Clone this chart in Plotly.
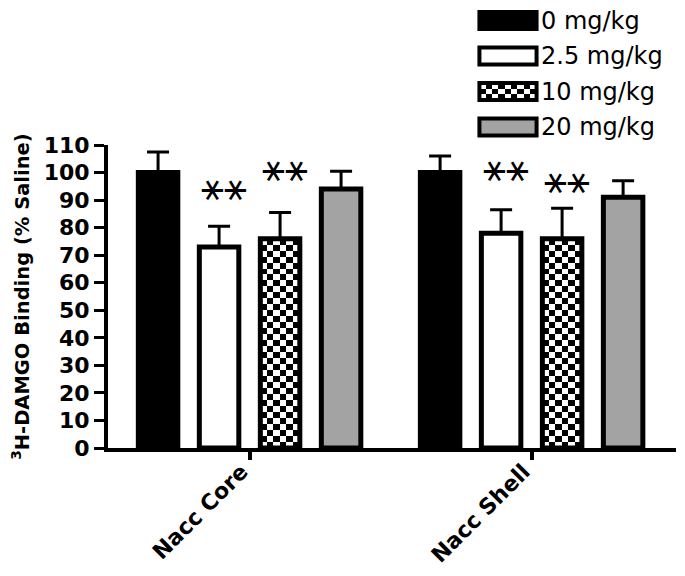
import numpy as np
import plotly.graph_objects as go

# ---- data ----
groups = ["Nacc Core", "Nacc Shell"]
doses = ["0 mg/kg", "2.5 mg/kg", "10 mg/kg", "20 mg/kg"]
core_means = [100, 73, 76, 94]
core_sem = [7.5, 7.5, 9.5, 6.5]
shell_means = [100, 78, 76, 91]
shell_sem = [6, 8.5, 11, 6]
# significance marker heights, None = no marker
core_sig = [None, 94.6, 101.8, None]
shell_sig = [None, 101.5, 97.4, None]
y_ticks = list(range(0, 111, 10))

# ---- style ----
fills = ["black", "white", "checker", "#a3a3a3"]
pitch = 0.2163
bw = 0.14
LW = 5
FONT = "DejaVu Sans"

means = [[core_means[s], shell_means[s]] for s in range(4)]
sems = [[core_sem[s], shell_sem[s]] for s in range(4)]
sigs = [[core_sig[s], shell_sig[s]] for s in range(4)]


def checker(x0, x1, y0, y1, ncols, nrows, xa="x", ya="y"):
    xe = np.linspace(x0, x1, ncols + 1)
    ye = np.linspace(y0, y1, nrows + 1)
    z = [[(i + j) % 2 for j in range(ncols)] for i in range(nrows)]
    return go.Heatmap(x=xe, y=ye, z=z, zmin=0, zmax=1,
                      colorscale=[[0, "white"], [1, "black"]],
                      showscale=False, hoverinfo="skip", xaxis=xa, yaxis=ya)


fig = go.Figure()
annotations = []
for s in range(4):
    xs = [g + (s - 1.5) * pitch for g in range(len(groups))]
    if fills[s] == "checker":
        for g in range(len(groups)):
            v = means[s][g]
            fig.add_trace(checker(xs[g] - bw / 2, xs[g] + bw / 2, 0, v, 6, int(round(v / 2.2))))
        color = "rgba(0,0,0,0)"
    else:
        color = fills[s]
    fig.add_trace(go.Bar(
        x=xs, y=means[s], width=bw,
        marker=dict(color=color, line=dict(color="black", width=LW)),
        error_y=dict(type="data", symmetric=False, array=sems[s],
                     arrayminus=[0] * len(groups), color="black",
                     thickness=3, width=11),
        hoverinfo="skip", showlegend=False,
    ))
    for g in range(len(groups)):
        if sigs[s][g] is not None:
            annotations.append(dict(x=xs[g], y=sigs[s][g], xref="x", yref="y",
                                    text="⚹⚹", showarrow=False, xshift=5,
                                    font=dict(family=FONT, size=38, color="black")))

# legend drawn as a small bar chart on its own axes
for s in range(4):
    if fills[s] == "checker":
        fig.add_trace(checker(0, 1, s - 0.24, s + 0.24, 9, 3, "x2", "y2"))
        color = "rgba(0,0,0,0)"
    else:
        color = fills[s]
    fig.add_trace(go.Bar(
        x=[1], y=[s], base=0, orientation="h", width=0.48,
        marker=dict(color=color, line=dict(color="black", width=4)),
        xaxis="x2", yaxis="y2", hoverinfo="skip", showlegend=False,
    ))

# page body has an 8px margin, so the figure is sized/offset for that
W, H = 677, 568
L, R, T, B = 100, 9, 0, 128
pw = W - L - R
ph = H - T - B
fig.update_layout(
    width=W, height=H,
    margin=dict(l=L, r=R, t=T, b=B, autoexpand=False),
    paper_bgcolor="white", plot_bgcolor="white",
    showlegend=False,
    font=dict(family=FONT, color="black"),
    xaxis=dict(range=[-0.502, 1.512], tickvals=list(range(len(groups))), ticktext=groups,
               showline=True, linewidth=4, linecolor="black", ticks="outside",
               ticklen=8, tickwidth=4, tickcolor="black", tickangle=-45,
               ticklabelstandoff=-10, ticklabelshift=-8,
               tickfont=dict(family=FONT, size=22, weight="bold"),
               showgrid=False, zeroline=False, anchor="y", automargin=False),
    yaxis=dict(domain=[0, (ph - 137) / ph], range=[0, 110], tickvals=y_ticks,
               showline=True, linewidth=4, linecolor="black", ticks="outside",
               ticklen=10, tickwidth=3, tickcolor="black",
               tickfont=dict(family=FONT, size=22, weight="bold"),
               showgrid=False, zeroline=False, automargin=False,
               title=dict(text="<sup>3</sup>H-DAMGO Binding (% Saline)",
                          font=dict(family=FONT, size=19.5, weight="bold"), standoff=19)),
    xaxis2=dict(domain=[(468 - L) / pw, (532 - L) / pw], range=[-0.06, 1.06],
                anchor="y2", visible=False),
    yaxis2=dict(domain=[(ph - 135) / ph, 1], range=[3.451, -0.352], anchor="x2", side="right",
                tickvals=list(range(4)), ticktext=doses, ticks="", showline=False,
                showgrid=False, zeroline=False, automargin=False,
                ticklabeloverflow="allow",
                tickfont=dict(family=FONT, size=24)),
    annotations=annotations,
)

fig.write_html("out.html")
